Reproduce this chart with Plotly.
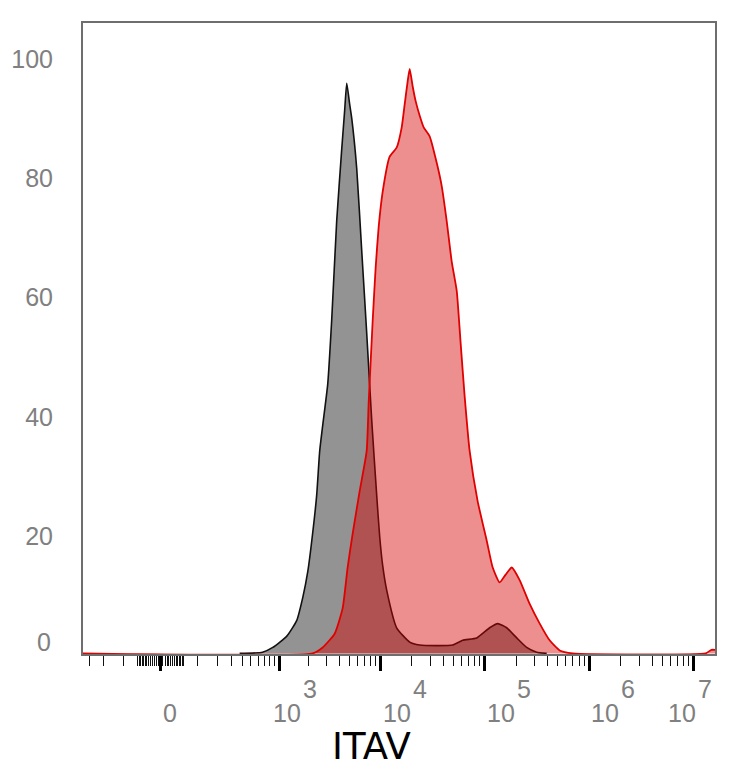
import numpy as np
import plotly.graph_objects as go

# flow cytometry overlay, ITAV staining, % of max vs intensity (biexponential-ish axis)

# control (isotype) histogram
gray_x = [373, 670, 860, 1200, 1510, 1740, 1950, 2180, 2390, 2560, 2740, 3070,
          3360, 3760, 4200, 4500, 4710, 5030, 5270, 5890, 6580, 7350, 8220,
          9190, 9820, 10500, 11470, 14300, 19100, 23800, 36000, 49300, 61600,
          83900, 111600, 133200, 162400, 202600, 252200, 314600, 392400]
gray_y = [0, 0.2, 1, 2.9, 5.5, 9.4, 13.7, 20.1, 26.5, 33.9, 38.2, 45.1,
          55.9, 72.5, 84.3, 91.1, 95.6, 92.1, 89.7, 81.3, 67.6, 53.9, 39.2,
          26.5, 19.6, 14.7, 10.6, 4.3, 1.9, 1.4, 1.3, 1.4, 2.2,
          2.6, 4.3, 5.0, 4.3, 2.6, 1, 0.2, 0]

# ITAV stained histogram
red_x = [-400, 2180, 2740, 3590, 4300, 4805, 5380, 6290, 7350, 7690, 8040,
         8410, 8980, 9600, 10490, 12250, 14300, 16000, 17100, 18280, 19100,
         20390, 21790, 23790, 26030, 29700, 34650, 38720, 43260, 48320, 53980,
         58900, 64300, 71830, 85670, 104600, 119300, 139200, 158700, 181400,
         216100, 269600, 336300, 418500, 522200, 696300, 13000000, 14800000,
         16000000]
red_y = [0, 0, 1, 3.3, 7.6, 14.4, 20.1, 27.2, 33.9, 42.1, 49,
         55.9, 64.7, 71.5, 77.4, 83.3, 84.8, 88.2, 92.1, 96, 98,
         95.1, 92.6, 90.2, 88.2, 86.7, 82.3, 78.4, 72.5, 65.7, 60.8,
         51.9, 43.1, 33.9, 25.5, 18.9, 14.4, 11.9, 13.2, 14.4,
         12.3, 8.3, 5, 2.2, 0.5, 0, 0, 0.6,
         0.6]

major_vals = [0, 1e3, 1e4, 1e5, 1e6, 1e7]
major_base = ["0", "10", "10", "10", "10", "10"]
major_exp = ["", "3", "4", "5", "6", "7"]
y_ticks = [20, 40, 60, 80, 100]

L = 79.4  # width of the linear part around zero


def biex(v):
    v = np.asarray(v, dtype=float)
    return np.sign(v) * np.log10(1 + np.abs(v) / L)


minor_vals = list(range(-300, 0, 100)) + list(range(-52, 53, 4)) + list(range(100, 1000, 100))
for dec in [1e3, 1e4, 1e5, 1e6]:
    minor_vals += [k * dec for k in range(2, 10)]

fig = go.Figure()
fig.add_trace(go.Scatter(
    x=biex(gray_x), y=gray_y, mode="lines", fill="tozeroy",
    line=dict(color="#111111", width=1.6, shape="spline", smoothing=0.5),
    fillcolor="#939393", showlegend=False))
fig.add_trace(go.Scatter(
    x=biex(red_x), y=red_y, mode="lines", fill="tozeroy",
    line=dict(color="#e00000", width=1.8, shape="spline", smoothing=0.5),
    fillcolor="rgba(216,0,0,0.44)", showlegend=False))

fig.update_xaxes(
    range=[float(biex(-360)), float(biex(1.6e7))],
    tickmode="array", tickvals=biex(major_vals), showticklabels=False,
    ticks="outside", ticklen=15, tickwidth=3, tickcolor="black",
    minor=dict(tickmode="array", tickvals=biex(minor_vals), ticks="outside",
               ticklen=10, tickwidth=1.4, tickcolor="#111111"),
    showgrid=False, zeroline=False, automargin=False,
    showline=True, linecolor="#6e6e6e", linewidth=2, mirror=True)

tick_font = dict(family="Liberation Sans", size=25, color="#808080")
fig.update_yaxes(
    range=[-0.1, 105.7], tickmode="array", tickvals=y_ticks,
    ticks="", ticklabelshift=2, ticklabelstandoff=23, tickfont=tick_font,
    showgrid=False, zeroline=False, automargin=False,
    showline=True, linecolor="#6e6e6e", linewidth=2, mirror=True)
# the "0" label sits a bit above its tick, as in the original
fig.add_annotation(text="0", x=0, xref="paper", y=0, yref="y", xanchor="right",
                   yanchor="middle", xshift=-30, yshift=11, showarrow=False,
                   font=tick_font)

# x tick labels: "10" with a raised exponent, left-aligned at the tick
for i, (val, base, ex) in enumerate(zip(major_vals, major_base, major_exp)):
    shift = 0
    if val == 1e3:
        shift = -8
    if i == len(major_vals) - 1:
        shift = -28
    fig.add_annotation(text=base, x=float(biex(val)), xref="x", y=-0.0935, yref="paper",
                       xanchor="left", yanchor="middle", xshift=shift,
                       showarrow=False, font=tick_font)
    if ex:
        fig.add_annotation(text=ex, x=float(biex(val)), xref="x", y=-0.0547, yref="paper",
                           xanchor="left", yanchor="middle", xshift=shift + 30,
                           showarrow=False, font=tick_font)

fig.add_annotation(text="ITAV", xref="paper", yref="paper", x=0.457, y=-0.146,
                   xanchor="center", yanchor="middle", showarrow=False,
                   font=dict(family="DejaVu Sans", size=37, color="black"))

# page body adds ~8px around the figure, so the figure is 8px smaller
fig.update_layout(width=726, height=760, plot_bgcolor="white", paper_bgcolor="white",
                  margin=dict(l=75, r=19, t=15, b=114))

fig.write_html("out.html")
